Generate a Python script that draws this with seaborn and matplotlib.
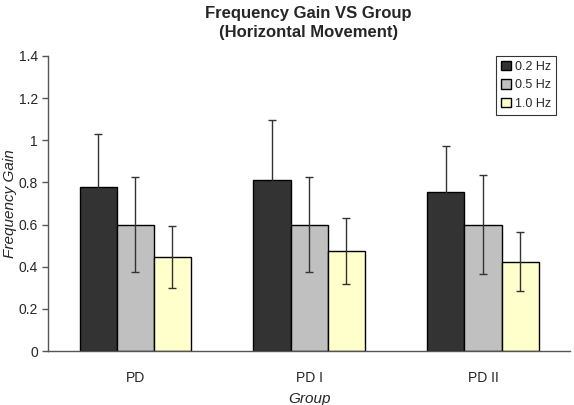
import pandas as pd
import numpy as np
import matplotlib
matplotlib.use('Agg')
import matplotlib.pyplot as plt
import seaborn as sns

groups = ['PD', 'PD I', 'PD II']
freqs = ['0.2 Hz', '0.5 Hz', '1.0 Hz']
gain_02 = [0.78, 0.81, 0.755]
gain_05 = [0.60, 0.60, 0.60]
gain_10 = [0.447, 0.475, 0.424]
err_02 = [0.25, 0.285, 0.218]
err_05 = [0.227, 0.227, 0.233]
err_10 = [0.148, 0.158, 0.139]
colors = ['#333333', '#C0C0C0', '#FFFFCC']

sns.set_style('white')
plt.rcParams['font.family'] = ['Liberation Sans', 'DejaVu Sans']

df = pd.DataFrame({
    'Group': groups * 3,
    'Freq': [f for f in freqs for _ in groups],
    'Gain': gain_02 + gain_05 + gain_10,
    'Err': err_02 + err_05 + err_10,
})

fig = plt.figure(figsize=(5.74, 4.05), dpi=100)
ax = fig.add_axes([0.084, 0.133, 0.909, 0.729])

sns.barplot(data=df, x='Group', y='Gain', hue='Freq', order=groups, hue_order=freqs,
            palette=colors, width=0.64, gap=0, errorbar=None,
            edgecolor='black', linewidth=1, saturation=1, ax=ax)

# error bars at bar centres
bars = [p for p in ax.patches if p.get_height() > 0]
for p, e in zip(bars, df['Err']):
    xc = p.get_x() + p.get_width() / 2
    ax.errorbar(xc, p.get_height(), yerr=e, fmt='none', ecolor='#333333',
                elinewidth=1, capsize=3, capthick=1)

ax.set_ylim(0, 1.4)
ax.set_yticks(np.arange(0, 1.41, 0.2))
ax.set_yticklabels(['0', '0.2', '0.4', '0.6', '0.8', '1', '1.2', '1.4'])
ax.set_xlim(-0.5, 2.5)
ax.set_xticks([-0.5, 0.5, 1.5, 2.5], minor=True)
ax.tick_params(axis='x', which='major', length=0, pad=14, labelsize=10)
ax.tick_params(axis='x', which='minor', length=5, direction='out', color='#555555', width=1)
ax.tick_params(axis='y', length=4, direction='out', color='#555555', width=1, labelsize=10, left=True)

for s in ['top', 'right']:
    ax.spines[s].set_visible(False)
for s in ['left', 'bottom']:
    ax.spines[s].set_color('#555555')
    ax.spines[s].set_linewidth(1)

ax.set_xlabel('Group', fontsize=11, style='italic', labelpad=5)
ax.set_ylabel('Frequency Gain', fontsize=11, style='italic', labelpad=1)
fig.text(0.538, 0.985, 'Frequency Gain VS Group\n(Horizontal Movement)', fontsize=12,
         fontweight='bold', ha='center', va='top', linespacing=1.3)

leg = ax.legend(loc='upper right', bbox_to_anchor=(0.973, 1.0), borderaxespad=0,
                frameon=True, fancybox=False, edgecolor='black', fontsize=9,
                handlelength=0.8, handleheight=0.8, handletextpad=0.3,
                borderpad=0.4, labelspacing=0.5)
leg.get_frame().set_linewidth(0.8)

fig.savefig('out.png', dpi=100)
